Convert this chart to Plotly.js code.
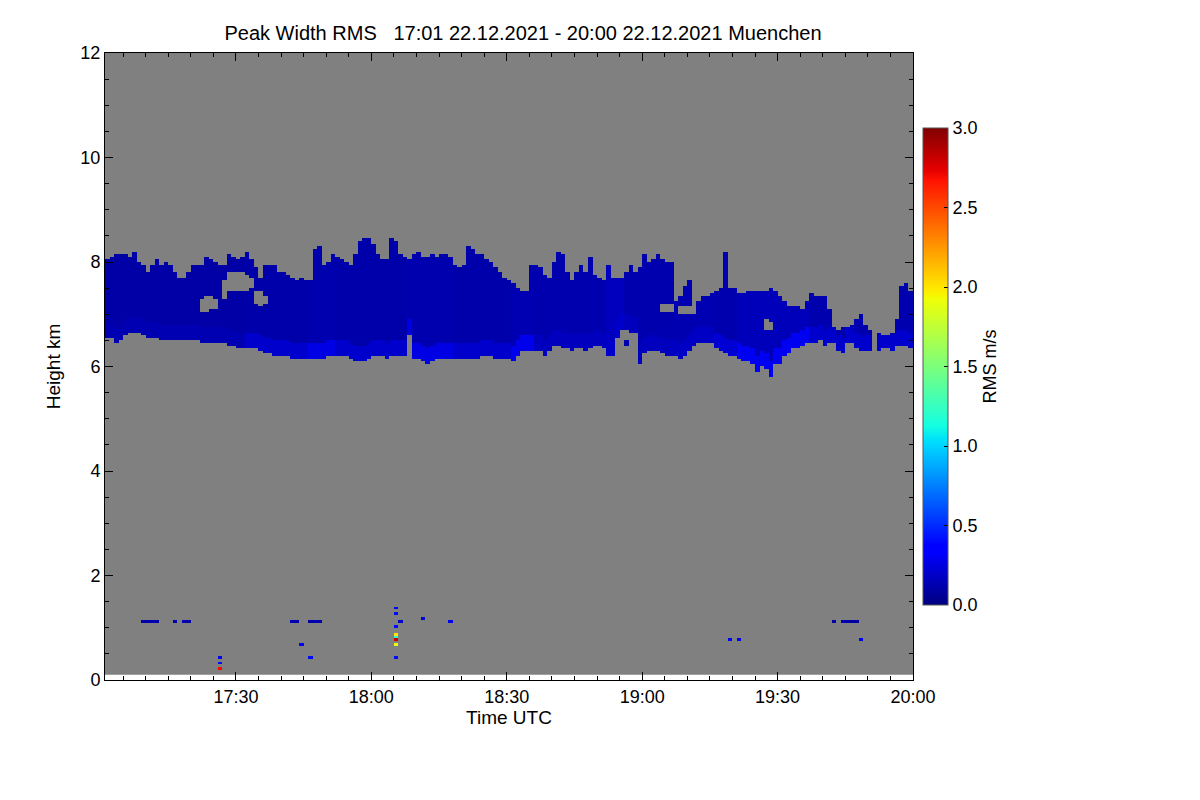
<!DOCTYPE html>
<html>
<head>
<meta charset="utf-8">
<script src="https://cdn.plot.ly/plotly-3.0.1.min.js"></script>
<style>
	html, body { margin: 0; padding: 0; background: #fff; }
	#graph-0 { width: 1200px; height: 800px; }
</style>
</head>
<body>
<div id="graph-0"></div>
<script>
/* global Plotly */

// one column per minute, 17:01 .. 20:00 UTC
const cloudTop = [
	8.04, 8.10, 8.15, 8.13, 8.16, 8.09, 8.21, 8.00, 7.94, 7.79,
	7.97, 8.04, 7.97, 8.00, 7.94, 7.78, 7.72, 7.68, 7.81, 7.94,
	7.97, 7.97, 8.10, 8.04, 8.00, 7.97, 7.94, 8.13, 8.10, 8.07,
	8.10, 8.18, 8.04, 7.91, 7.72, 7.97, 7.97, 7.94, 7.81, 7.78,
	7.75, 7.72, 7.65, 7.68, 7.65, 7.65, 8.23, 8.32, 7.97, 8.00,
	8.13, 8.10, 8.07, 8.00, 7.97, 8.16, 8.42, 8.47, 8.45, 8.36,
	8.16, 8.07, 8.04, 8.43, 8.39, 8.13, 8.10, 8.04, 8.13, 8.20,
	8.10, 8.10, 8.13, 8.10, 8.16, 8.15, 8.10, 7.97, 7.91, 7.97,
	8.32, 8.23, 8.16, 8.13, 8.07, 8.00, 7.91, 7.81, 7.72, 7.65,
	7.62, 7.49, 7.43, 7.46, 7.94, 7.97, 7.88, 7.75, 7.72, 8.00,
	8.20, 8.13, 7.78, 7.65, 7.81, 7.97, 7.81, 8.10, 7.75, 7.68,
	7.65, 7.94, 7.72, 7.68, 7.68, 7.78, 7.94, 7.78, 7.91, 8.13,
	8.00, 8.07, 8.13, 8.07, 8.00, 8.00, 7.27, 7.33, 7.56, 7.65,
	7.01, 7.24, 7.33, 7.37, 7.40, 7.46, 7.49, 8.18, 7.52, 7.49,
	7.40, 7.40, 7.43, 7.43, 7.46, 7.43, 7.46, 7.51, 7.43, 7.37,
	7.27, 7.17, 7.14, 7.13, 7.08, 7.24, 7.41, 7.37, 7.37, 7.33,
	7.08, 6.73, 6.70, 6.75, 6.77, 6.79, 6.92, 6.98, 6.79, 6.71,
	null, 6.63, 6.62, 6.62, 6.63, 6.92, 7.56, 7.58, 7.46,
];

const cloudBase = [
	6.54, 6.54, 6.45, 6.50, 6.58, 6.63, 6.64, 6.63, 6.62, 6.57,
	6.54, 6.56, 6.52, 6.50, 6.50, 6.50, 6.50, 6.50, 6.52, 6.50,
	6.49, 6.44, 6.43, 6.44, 6.45, 6.44, 6.43, 6.41, 6.38, 6.37,
	6.34, 6.33, 6.33, 6.33, 6.30, 6.26, 6.24, 6.20, 6.19, 6.19,
	6.19, 6.17, 6.15, 6.15, 6.15, 6.15, 6.15, 6.15, 6.17, 6.19,
	6.19, 6.19, 6.20, 6.22, 6.15, 6.11, 6.09, 6.11, 6.15, 6.19,
	6.19, 6.19, 6.17, 6.19, 6.19, 6.19, 6.22, 6.62, 6.17, 6.15,
	6.09, 6.06, 6.12, 6.15, 6.15, 6.15, 6.15, 6.15, 6.15, 6.15,
	6.15, 6.15, 6.15, 6.20, 6.22, 6.19, 6.15, 6.15, 6.15, 6.15,
	6.09, 6.19, 6.28, 6.30, 6.31, 6.31, 6.28, 6.22, 6.31, 6.41,
	6.38, 6.34, 6.33, 6.31, 6.33, 6.34, 6.31, 6.37, 6.41, 6.41,
	6.34, 6.22, 6.20, 6.57, 6.70, 6.70, 6.66, 6.63, 6.06, 6.25,
	6.28, 6.31, 6.28, 6.25, 6.22, 6.19, 6.19, 6.15, 6.22, 6.31,
	6.41, 6.43, 6.44, 6.44, 6.43, 6.33, 6.28, 6.25, 6.22, 6.19,
	6.15, 6.11, 6.09, 6.06, 5.90, 6.00, 5.96, 5.80, 6.03, 6.06,
	6.19, 6.24, 6.33, 6.37, 6.41, 6.43, 6.43, 6.44, 6.50, 6.41,
	6.47, 6.47, 6.31, 6.25, 6.44, 6.47, 6.34, 6.28, 6.28, 6.31,
	null, 6.31, 6.33, 6.34, 6.31, 6.38, 6.41, 6.38, 6.34,
];

// clear holes inside the cloud: [minute index, lower km, upper km]
const cloudGaps = [
	[21, 7.05, 7.30], [22, 7.05, 7.37], [23, 7.10, 7.35], [24, 7.10, 7.30],
	[26, 7.30, 7.65], [27, 7.45, 7.78], [28, 7.45, 7.78], [29, 7.45, 7.78],
	[30, 7.45, 7.78], [31, 7.45, 7.75], [32, 7.50, 7.72],
	[33, 7.20, 7.45], [34, 7.17, 7.43], [35, 7.20, 7.35],
	[123, 7.05, 7.20], [124, 7.05, 7.20], [125, 7.05, 7.22],
	[127, 7.02, 7.15], [128, 7.00, 7.15], [129, 7.00, 7.15],
	[146, 6.70, 6.88], [147, 6.72, 6.85],
];

// peak width RMS (m/s) per stretch of minutes: body and lowest layer
const rmsSegStart = [0, 31, 45, 51, 67, 77, 90, 95, 111, 115, 126, 135, 140, 156];
const rmsSegCore = [0.10, 0.11, 0.12, 0.11, 0.12, 0.11, 0.13, 0.12, 0.16, 0.12, 0.13, 0.12, 0.15, 0.12];
const rmsSegLow = [0.13, 0.20, 0.26, 0.20, 0.26, 0.20, 0.28, 0.16, 0.20, 0.16, 0.18, 0.22, 0.30, 0.20];

// isolated echoes: [minute index, height km, rms]
const lowEchoes = [
	[8, 1.15, 0.1], [9, 1.15, 0.1], [10, 1.15, 0.15], [11, 1.15, 0.1],
	[15, 1.15, 0.1], [17, 1.15, 0.15], [18, 1.15, 0.1],
	[25, 0.45, 0.3], [25, 0.35, 0.4], [25, 0.25, 2.7],
	[41, 1.15, 0.15], [42, 1.15, 0.1], [43, 0.7, 0.3],
	[45, 1.15, 0.1], [46, 1.15, 0.15], [47, 1.15, 0.1], [45, 0.4, 0.4],
	[64, 1.4, 0.3], [64, 1.3, 0.4], [64, 1.0, 0.4], [64, 0.85, 2.0],
	[64, 0.8, 1.2], [64, 0.75, 2.8], [64, 0.7, 1.9], [64, 0.45, 0.4],
	[65, 1.15, 0.2], [70, 1.17, 0.2], [76, 1.1, 0.3],
	[115, 6.40, 0.12], [115, 6.45, 0.12],
	[138, 0.75, 0.3], [140, 0.75, 0.3],
	[161, 1.15, 0.1], [163, 1.15, 0.15], [164, 1.15, 0.1], [165, 1.15, 0.1],
	[166, 1.15, 0.1], [167, 0.75, 0.3],
];

const colorbarTicks = [0, 0.5, 1, 1.5, 2, 2.5, 3];

const TIME_START = "2021-12-22 17:01";
const TIME_END = "2021-12-22 20:00";
const T0_MS = Date.UTC(2021, 11, 22, 17, 1, 0);
const H_MIN = 0.1;
const H_MAX = 12;
const H_STEP = 0.05;
const N_ROWS = 178; // up to 9 km, above is empty
const LOW_DEPTH = 0.3;

const jet = [
	[0, "rgb(0,0,128)"],
	[0.11, "rgb(0,0,255)"],
	[0.125, "rgb(0,0,255)"],
	[0.34, "rgb(0,219,255)"],
	[0.35, "rgb(0,229,247)"],
	[0.375, "rgb(20,255,226)"],
	[0.64, "rgb(239,255,8)"],
	[0.65, "rgb(247,245,0)"],
	[0.66, "rgb(255,236,0)"],
	[0.89, "rgb(255,19,0)"],
	[0.91, "rgb(232,0,0)"],
	[1, "rgb(128,0,0)"],
];

function timeLabel(ms) {
	return new Date(ms).toISOString().slice(0, 19).replace("T", " ");
}

function segIndex(m) {
	let s = 0;
	for (let i = 0; i < rmsSegStart.length; ++i) {
		if (rmsSegStart[i] <= m) s = i;
	}
	return s;
}

function inGap(m, h) {
	return cloudGaps.some(([gm, lo, hi]) => gm === m && h >= lo && h <= hi);
}

function buildGrid() {
	const nCols = cloudTop.length;
	const x = [];
	for (let m = 0; m < nCols; ++m) {
		x.push(timeLabel(T0_MS + (m + 0.5) * 60000));
	}
	const y = [];
	for (let k = 0; k < N_ROWS; ++k) {
		y.push(+(H_MIN + (k + 0.5) * H_STEP).toFixed(3));
	}
	const z = y.map(() => new Array(nCols).fill(null));

	for (let m = 0; m < nCols; ++m) {
		const top = cloudTop[m];
		const base = cloudBase[m];
		if (top === null || base === null) continue;
		const s = segIndex(m);
		for (let k = 0; k < N_ROWS; ++k) {
			const h = y[k];
			if (h < base || h > top || inGap(m, h)) continue;
			z[k][m] = h < base + LOW_DEPTH ? rmsSegLow[s] : rmsSegCore[s];
		}
	}

	for (const [m, h, v] of lowEchoes) {
		const k = Math.floor((h - H_MIN) / H_STEP);
		if (k >= 0 && k < N_ROWS) z[k][m] = v;
	}

	return { x, y, z };
}

const FONT = "'Liberation Sans', Arial, Helvetica, sans-serif";
const grid = buildGrid();

const trace = {
	type: "heatmap",
	x: grid.x,
	y: grid.y,
	z: grid.z,
	zmin: 0,
	zmax: 3,
	colorscale: jet,
	zsmooth: false,
	hoverinfo: "skip",
	colorbar: {
		x: 1.0124,
		xanchor: "left",
		xpad: 0,
		y: 0.5,
		yanchor: "middle",
		ypad: 0,
		len: 477,
		lenmode: "pixels",
		thickness: 25,
		thicknessmode: "pixels",
		outlinewidth: 1,
		outlinecolor: "#555",
		tickvals: colorbarTicks,
		ticktext: colorbarTicks.map(v => v.toFixed(1)),
		ticks: "inside",
		ticklen: 4,
		tickcolor: "#000",
		tickfont: { family: FONT, size: 18, color: "#000" },
		title: {
			text: "RMS m/s",
			side: "right",
			font: { family: FONT, size: 18, color: "#000" },
		},
	},
};

const layout = {
	width: 1200,
	height: 800,
	paper_bgcolor: "#fff",
	plot_bgcolor: "#fff",
	font: { family: FONT, size: 18, color: "#000" },
	margin: { l: 105, r: 287, t: 53, b: 120, pad: 0 },
	title: {
		text: "Peak Width RMS   17:01 22.12.2021 - 20:00 22.12.2021 Muenchen",
		font: { family: FONT, size: 20, color: "#000" },
		xref: "container",
		yref: "container",
		x: 523 / 1200,
		y: 1 - 33 / 800,
		xanchor: "center",
		yanchor: "middle",
	},
	xaxis: {
		type: "date",
		range: [TIME_START, TIME_END],
		tickformat: "%H:%M",
		tick0: "2021-12-22 17:30",
		dtick: 1800000,
		ticks: "inside",
		ticklen: 8,
		tickcolor: "#000",
		showline: true,
		linecolor: "#000",
		linewidth: 1,
		mirror: "ticks",
		showgrid: false,
		zeroline: false,
		minor: { dtick: 300000, ticks: "inside", ticklen: 4, tickcolor: "#000", showgrid: false },
		tickfont: { family: FONT, size: 18, color: "#000" },
		title: { text: "Time UTC", font: { family: FONT, size: 19, color: "#000" }, standoff: 2 },
	},
	yaxis: {
		range: [0, H_MAX],
		dtick: 2,
		ticks: "inside",
		ticklen: 8,
		tickcolor: "#000",
		showline: true,
		linecolor: "#000",
		linewidth: 1,
		mirror: "ticks",
		showgrid: false,
		zeroline: false,
		minor: { dtick: 0.5, ticks: "inside", ticklen: 4, tickcolor: "#000", showgrid: false },
		tickfont: { family: FONT, size: 18, color: "#000" },
		title: { text: "Height km", font: { family: FONT, size: 19, color: "#000" }, standoff: 14 },
	},
	shapes: [
		{
			type: "rect",
			layer: "below",
			xref: "x",
			yref: "y",
			x0: TIME_START,
			x1: TIME_END,
			y0: H_MIN,
			y1: H_MAX,
			fillcolor: "#808080",
			line: { width: 0 },
		},
	],
	showlegend: false,
};

const config = { displayModeBar: false, staticPlot: true };

Plotly.newPlot(document.getElementById("graph-0"), [trace], layout, config);
</script>
</body>
</html>
